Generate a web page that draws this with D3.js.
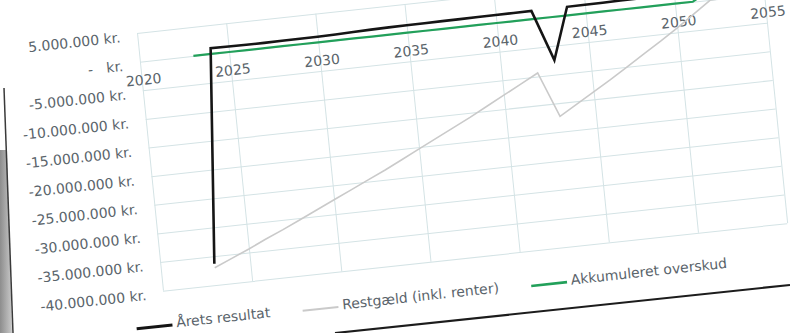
<!DOCTYPE html>
<html>
<head>
<meta charset="utf-8">
<script src="https://cdn.jsdelivr.net/npm/d3@7"></script>
<style>
  body { margin: 0; background: #fff; }
  svg { display: block; font-family: "DejaVu Sans", sans-serif; }
</style>
</head>
<body>
<div id="chart-container"></div>
<script>
// Data (kr.)
const years = [2023, 2024, 2025, 2026, 2027, 2028, 2029, 2030, 2031, 2032, 2033,
  2034, 2035, 2036, 2037, 2038, 2039, 2040, 2041, 2042, 2043, 2044,
  2045, 2046, 2047, 2048, 2049, 2050, 2051, 2052, 2053, 2054, 2055];

const aretsResultat = [-36300000, 1000000, 950000, 920000, 920000, 940000, 960000, 980000, 1020000, 1120000, 1200000,
  1260000, 1300000, 1320000, 1340000, 1360000, 1380000, 1400000, 1420000, 1440000, -7500000, 1480000,
  1500000, 1530000, 1560000, 1590000, 1620000, 1650000, 1680000, 1710000, 1740000, 1770000, 1800000];

const restgaeld = [-37000000, -35700000, -34400000, -33000000, -31700000, -30300000, -28900000, -27500000, -26100000, -24700000, -23300000,
  -21800000, -20300000, -18800000, -17300000, -15800000, -14200000, -12600000, -11000000, -9400000, -17300000, -15500000,
  -13700000, -11900000, -10000000, -8100000, -6200000, -4200000, -2100000, 0, 0, 0, 0];

const akkumuleret = [0, 0, 0, 0, 0, 0, 0, 0, 0, 0, 0,
  0, 0, 0, 0, 0, 0, 0, 0, 0, 0, 0,
  0, 0, 0, 0, 0, 0, 0, 1700000, 3450000, 5200000, 6950000];

const xTicks = [2020, 2025, 2030, 2035, 2040, 2045, 2050, 2055];
const yTicks = [5000000, 0, -5000000, -10000000, -15000000, -20000000, -25000000, -30000000, -35000000, -40000000];

const seriesNames = ['Årets resultat', 'Restgæld (inkl. renter)', 'Akkumuleret overskud'];
const seriesColors = ['#151515', '#cacaca', '#22a05a'];

// Layout
const plotW = 628, plotH = 259;

const svg = d3.select('#chart-container').append('svg')
  .attr('width', 790)
  .attr('height', 333);

// paper edge / shadow seen in the photo
const grad = svg.append('defs').append('linearGradient').attr('id', 'shade');
grad.append('stop').attr('offset', '0%').attr('stop-color', '#8d8d8d');
grad.append('stop').attr('offset', '100%').attr('stop-color', '#c9c9c9');
svg.append('polygon')
  .attr('points', '0,150 7,150 12,333 0,333')
  .style('fill', 'url(#shade)');
svg.append('line')
  .attr('x1', 4).attr('y1', 88).attr('x2', 13).attr('y2', 333)
  .style('stroke', '#3a3a3a').style('stroke-width', 1.5);
svg.append('line')
  .attr('x1', 335).attr('y1', 333).attr('x2', 790).attr('y2', 285)
  .style('stroke', '#1c1c1c').style('stroke-width', 2.2);

// chart is tilted in the photo
const g = svg.append('g')
  .attr('transform', 'matrix(0.9939,-0.1076,0.1003,0.995,137,33)');

const x = d3.scaleLinear().domain([2020, 2055]).range([0, plotW]);
const y = d3.scaleLinear().domain([-40000000, 5000000]).range([plotH, 0]);

// gridlines
g.append('g')
  .attr('transform', `translate(0,${plotH})`)
  .call(d3.axisBottom(x).tickValues(xTicks).tickSize(-plotH).tickFormat(''))
  .call(s => s.select('.domain').remove())
  .selectAll('line').style('stroke', '#d4e3e5');

g.append('g')
  .call(d3.axisLeft(y).tickValues(yTicks).tickSize(-plotW).tickFormat(''))
  .call(s => s.select('.domain').remove())
  .selectAll('line').style('stroke', '#d4e3e5');

// y labels, Danish format
const loc = d3.formatLocale({ decimal: ',', thousands: '.', grouping: [3], currency: ['', ' kr.'], minus: '-' });
const fmt = loc.format(',.0f');
const yAxis = g.append('g')
  .call(d3.axisLeft(y).tickValues(yTicks).tickSize(0).tickPadding(17)
    .tickFormat(d => d === 0 ? '-   kr.' : fmt(d) + ' kr.'));
yAxis.select('.domain').remove();
yAxis.selectAll('text')
  .attr('y', 2.5)
  .style('white-space', 'pre')
  .style('font-family', '"DejaVu Sans", sans-serif')
  .style('font-size', '14px')
  .style('fill', '#5a646b');

// x labels sit under the zero line
const xAxis = g.append('g')
  .attr('transform', `translate(0,${y(0)})`)
  .call(d3.axisBottom(x).tickValues(xTicks).tickSize(0).tickFormat(d3.format('d')));
xAxis.select('.domain').remove();
xAxis.selectAll('text')
  .attr('x', 1.5)
  .attr('y', 18.5)
  .attr('dy', '0.35em')
  .style('font-family', '"DejaVu Sans", sans-serif')
  .style('font-size', '14px')
  .style('fill', '#5a646b');

// lines
const line = d3.line()
  .x(d => x(d[0]))
  .y(d => y(d[1]));

const series = [restgaeld, akkumuleret, aretsResultat];
const order = [1, 2, 0];
const widths = [2.6, 1.6, 2.2];

series.forEach((vals, i) => {
  const k = order[i];
  g.append('path')
    .datum(years.map((yr, j) => [yr, vals[j]]))
    .attr('d', line)
    .style('fill', 'none')
    .style('stroke', seriesColors[k])
    .style('stroke-width', widths[k])
    .style('stroke-linejoin', 'miter');
});

// legend
const legendX = [-30, 137, 367];
const legend = g.append('g').attr('transform', 'translate(0,293)');
seriesNames.forEach((name, i) => {
  legend.append('line')
    .attr('x1', legendX[i]).attr('x2', legendX[i] + 36)
    .attr('y1', 1).attr('y2', 1)
    .style('stroke', seriesColors[i])
    .style('stroke-width', widths[i] + 0.4);
  legend.append('text')
    .attr('x', legendX[i] + 40)
    .attr('y', -1)
    .attr('dy', '0.35em')
    .style('font-size', '14px')
    .style('fill', '#5a646b')
    .text(name);
});
</script>
</body>
</html>
